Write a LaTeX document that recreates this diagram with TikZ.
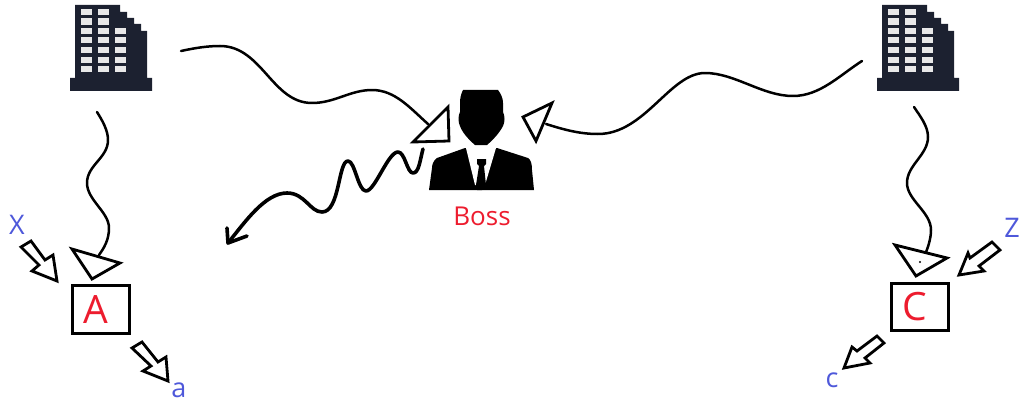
\documentclass[tikz,border=0pt]{standalone}
\usepackage{xcolor}
\usepackage{fontspec}
\setmainfont{Open Sans}
\usetikzlibrary{positioning}
\definecolor{bldgdark}{RGB}{28,33,48}
\definecolor{winlight}{RGB}{232,232,232}
\definecolor{labelred}{RGB}{237,28,46}
\definecolor{labelblue}{RGB}{78,88,218}
\tikzstyle{wire}=[line width=2.5pt, black, line cap=round, line join=round]
\tikzstyle{squig}=[line width=3.6pt, black, line cap=round, line join=round]
\tikzstyle{headtri}=[line width=2.8pt, black, fill=white, line join=miter]
\tikzstyle{blockarr}=[line width=2.8pt, black, fill=white, line join=miter]
\tikzstyle{mbox}=[rectangle, draw=black, line width=3pt, fill=white,
  minimum width=57pt, minimum height=47.5pt, inner sep=0pt, text=labelred,
  font=\fontsize{39}{39}\selectfont]
\tikzstyle{plabel}=[inner sep=0pt, text=labelblue, font=\fontsize{27}{27}\selectfont]
\tikzstyle{bldgspot}=[minimum width=82pt, minimum height=86pt, inner sep=0pt]
\tikzset{
  bldg/.pic={
    \fill[bldgdark] (70,91) -- (70,78) -- (75,78) -- (75,5) -- (120,5) -- (120,12)
      -- (127,12) -- (127,18) -- (134,18) -- (134,24) -- (141,24) -- (141,31)
      -- (147,31) -- (147,78) -- (152,78) -- (152,91) -- cycle;
    \foreach \wy in {9,18.5,27.7,37,46.7,56.7,66} {
      \fill[winlight] (81,\wy) rectangle ++(11,6.5);
      \fill[winlight] (98,\wy) rectangle ++(11,6.5);
    }
    \foreach \wy in {27.7,37,46.7,56.7,66}
      \fill[winlight] (115,\wy) rectangle ++(11,6.5);
  }
}
\begin{document}
\begin{tikzpicture}[x=1pt, y=-1pt]
  \useasboundingbox (0,0) rectangle (1021,404);

  % buildings
  \pic at (0,0) {bldg};
  \pic at (807,0) {bldg};
  \node[bldgspot] (bldgA) at (111,48) {};
  \node[bldgspot] (bldgC) at (918,48) {};

  % boss
  \fill[black] (465,148) -- (437,158) .. controls (433,161) and (432,165) .. (432,168)
    -- (429,190) -- (534,190) -- (532,170) .. controls (532,164) and (531,160) .. (528,158)
    -- (497,148) -- cycle;
  \fill[white] (466,148) -- (496,148) -- (485,185) -- (475,185) -- cycle;
  \fill[black] (463,90) -- (498,90) .. controls (501,94) and (503,98) .. (503,103)
    -- (503,112) .. controls (505,116) and (505,122) .. (503,126)
    .. controls (500,132) and (494,139) .. (487,145) -- (475,145)
    .. controls (468,139) and (462,132) .. (460,126)
    .. controls (458,122) and (458,116) .. (460,112) -- (460,103)
    .. controls (460,98) and (461,94) .. (463,90) -- cycle;
  \fill[black] (477,159) -- (486,159) -- (486,164) -- (484,166) -- (486,185) -- (482,190)
    -- (477,190) -- (476,185) -- (479,166) -- (477,164) -- cycle;
  \node[inner sep=0pt, text=labelred, font=\fontsize{26}{26}\selectfont] (boss) at (482,216) {Boss};

  % boxes and labels
  \node[mbox] (boxA) at (100.5,309.5) {A\kern9pt};
  \node[mbox] (boxC) at (919.5,307) {C\kern9pt};
  \node[plabel] (inX) at (17,225) {X};
  \node[plabel] (outa) at (179,390) {a};
  \node[plabel] (inZ) at (1012,228) {Z};
  \node[plabel] (outc) at (832,380) {c};

  % ends of the wavy lines
  \coordinate (w1s) at (181,51);
  \coordinate (w1e) at (428,124);
  \coordinate (w2s) at (862,61);
  \coordinate (w2e) at (546,124);
  \coordinate (w3s) at (97,112);
  \coordinate (w3e) at (99,255);
  \coordinate (w4s) at (914,107);
  \coordinate (w4e) at (924,257);
  \coordinate (w5s) at (423,149);
  \coordinate (w5e) at (228,243);

  \draw[wire] (w1s) .. controls (195,48) and (207,46) .. (220,46)
    .. controls (262,46) and (272,103) .. (312,103)
    .. controls (335,103) and (350,90) .. (372,90)
    .. controls (395,90) and (410,108) .. (w1e);
  \draw[wire] (w2s) .. controls (840,75) and (820,96) .. (793,96)
    .. controls (762,96) and (735,73) .. (705,73)
    .. controls (670,73) and (645,134) .. (598,134)
    .. controls (580,134) and (565,130) .. (w2e);
  \draw[wire] (w3s) .. controls (102,120) and (108,130) .. (108,140)
    .. controls (108,158) and (87,165) .. (87,183)
    .. controls (87,200) and (109,212) .. (109,228)
    .. controls (109,240) and (104,248) .. (w3e);
  \draw[wire] (w4s) .. controls (920,116) and (928,126) .. (928,137)
    .. controls (928,155) and (907,165) .. (907,183)
    .. controls (907,200) and (931,212) .. (931,230)
    .. controls (931,240) and (927,250) .. (w4e);
  \draw[squig] (w5s) .. controls (420,160) and (419,173) .. (413,173)
    .. controls (407,173) and (405,152) .. (398,152)
    .. controls (388,152) and (375,191) .. (366,191)
    .. controls (358,191) and (355,161) .. (348,161)
    .. controls (338,161) and (340,212) .. (322,212)
    .. controls (310,212) and (305,193) .. (287,193)
    .. controls (265,193) and (245,222) .. (w5e);
  \draw[squig] (227,228) -- (w5e) -- (247,236);

  % triangle heads
  \draw[headtri] (448,107) -- (449,141) -- (413,142) -- cycle;
  \draw[headtri] (523,117) -- (552,103) -- (536,141) -- cycle;
  \draw[headtri] (72,249) -- (120,263) -- (92,279) -- cycle;
  \draw[headtri] (895,245) -- (947,258) -- (916,276) -- cycle;
  \fill[black] (920,262) circle (1.2pt);

  % block arrows
  \draw[blockarr] (21,247) -- (31,241) -- (45,260) -- (53,255) -- (57,281) -- (32,271) -- (39,265) -- cycle;
  \draw[blockarr] (132,348) -- (142,342) -- (158,362) -- (166,357) -- (168,381) -- (143,371) -- (151,366) -- cycle;
  \draw[blockarr] (1000,250) -- (992,242) -- (970,258) -- (968,253) -- (959,275) -- (984,271) -- (979,266) -- cycle;
  \draw[blockarr] (884,343) -- (877,336) -- (857,351) -- (852,347) -- (844,368) -- (870,363) -- (865,358) -- cycle;
\end{tikzpicture}
\end{document}
